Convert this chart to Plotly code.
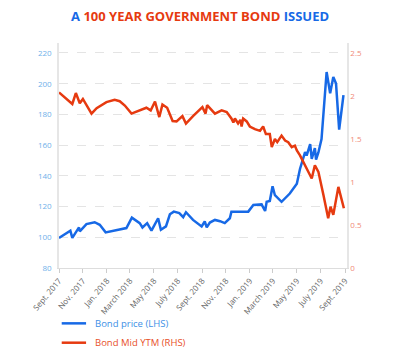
import plotly.graph_objects as go

# ---- data ----
price_dates = ["2017-09-01", "2017-09-30", "2017-10-05", "2017-10-22", "2017-10-24", "2017-11-10",
               "2017-12-01", "2017-12-14", "2017-12-29", "2018-02-20", "2018-03-06", "2018-03-26",
               "2018-04-02", "2018-04-14", "2018-04-25", "2018-05-12", "2018-05-19", "2018-06-01",
               "2018-06-11", "2018-06-21", "2018-07-05", "2018-07-15", "2018-07-22", "2018-08-09",
               "2018-08-31", "2018-09-08", "2018-09-13", "2018-09-21", "2018-10-04", "2018-10-17",
               "2018-10-29", "2018-11-11", "2018-11-15", "2018-12-28", "2019-01-10", "2019-01-31",
               "2019-02-09", "2019-02-13", "2019-02-21", "2019-02-28", "2019-03-06", "2019-03-23",
               "2019-04-13", "2019-05-01", "2019-05-09", "2019-05-22", "2019-05-26", "2019-06-04",
               "2019-06-08", "2019-06-16", "2019-06-19", "2019-06-25", "2019-07-03", "2019-07-16",
               "2019-07-25", "2019-08-02", "2019-08-09", "2019-08-17", "2019-08-28"]
price_values = [99.6, 104.3, 99.6, 106.4, 103.9, 108.6,
                109.8, 108.1, 103.2, 106.0, 112.8, 109.2,
                106.4, 109.2, 104.3, 112.4, 104.9, 107.1,
                115.0, 116.7, 115.8, 113.1, 116.3, 111.3,
                107.1, 110.3, 106.4, 109.6, 111.3, 110.5,
                109.2, 112.4, 116.7, 116.7, 121.0, 121.4,
                117.1, 123.1, 123.6, 133.2, 127.4, 123.1,
                128.5, 134.9, 144.5, 155.5, 153.2, 160.7,
                151.0, 158.0, 150.5, 155.2, 164.0, 207.6,
                193.7, 204.4, 200.1, 170.1, 192.6]

ytm_dates = ["2017-09-01", "2017-10-05", "2017-10-14", "2017-10-24", "2017-11-01", "2017-11-23",
             "2017-12-06", "2017-12-31", "2018-01-21", "2018-02-03", "2018-02-16", "2018-03-05",
             "2018-04-12", "2018-04-23", "2018-05-04", "2018-05-15", "2018-05-23", "2018-06-04",
             "2018-06-18", "2018-06-28", "2018-07-13", "2018-07-22", "2018-08-09", "2018-09-02",
             "2018-09-10", "2018-09-14", "2018-10-04", "2018-10-21", "2018-11-03", "2018-11-15",
             "2018-11-20", "2018-11-24", "2018-12-02", "2018-12-08", "2018-12-11", "2018-12-15",
             "2018-12-24", "2019-01-01", "2019-01-14", "2019-01-27", "2019-02-04", "2019-02-11",
             "2019-02-21", "2019-02-26", "2019-03-06", "2019-03-12", "2019-03-23", "2019-04-01",
             "2019-04-09", "2019-04-18", "2019-04-26", "2019-05-01", "2019-05-09", "2019-06-08",
             "2019-06-16", "2019-06-25", "2019-07-08", "2019-07-20", "2019-07-26", "2019-08-02",
             "2019-08-15", "2019-08-29"]
ytm_values = [2.041, 1.907, 2.034, 1.916, 1.966, 1.795,
              1.859, 1.929, 1.955, 1.939, 1.889, 1.795,
              1.863, 1.832, 1.936, 1.755, 1.900, 1.863,
              1.709, 1.705, 1.766, 1.679, 1.766, 1.870,
              1.795, 1.893, 1.795, 1.832, 1.813, 1.738,
              1.691, 1.738, 1.680, 1.723, 1.645, 1.738,
              1.704, 1.645, 1.614, 1.595, 1.645, 1.557,
              1.557, 1.405, 1.500, 1.463, 1.539, 1.482,
              1.463, 1.405, 1.423, 1.366, 1.309, 1.041,
              1.195, 1.118, 0.846, 0.579, 0.713, 0.618,
              0.943, 0.695]

tick_dates = ["2017-09-01", "2017-11-01", "2018-01-01", "2018-03-01", "2018-05-01", "2018-07-01",
              "2018-09-01", "2018-11-01", "2019-01-01", "2019-03-01", "2019-05-01", "2019-07-01",
              "2019-09-01"]
tick_labels = ["Sept. 2017", "Nov. 2017", "Jan. 2018", "March 2018", "May 2018", "July 2018",
               "Sept. 2018", "Nov. 2018", "Jan. 2019", "March 2019", "May 2019", "July 2019",
               "Sept. 2019"]
left_ticks = [80, 100, 120, 140, 160, 180, 200, 220]
right_ticks = [0, 0.5, 1, 1.5, 2, 2.5]
right_tick_labels = ["0", "0.5", "1", "1.5", "2", "2.5"]
series_names = ["Bond price (LHS)", "Bond Mid YTM (RHS)"]

BLUE = "#1769e6"
RED = "#e63a10"
LEG_TEXT = ["#3d90e6", "#e8502a"]

fig = go.Figure()
fig.add_trace(go.Scatter(
    x=price_dates, y=price_values, mode="lines",
    line=dict(color=BLUE, width=2.5), name=series_names[0],
))
fig.add_trace(go.Scatter(
    x=ytm_dates, y=ytm_values, mode="lines", yaxis="y2",
    line=dict(color=RED, width=2.5), name=series_names[1],
))

# manual legend below the chart (paper coordinates)
leg_y = [-0.246, -0.332]
for i, (col, tcol) in enumerate(zip([BLUE, RED], LEG_TEXT)):
    fig.add_shape(type="line", xref="paper", yref="paper",
                  x0=0.0094, x1=0.094, y0=leg_y[i], y1=leg_y[i],
                  line=dict(color=col, width=2.5))
    fig.add_annotation(xref="paper", yref="paper", x=0.118, y=leg_y[i],
                       xanchor="left", yanchor="middle", showarrow=False,
                       text=series_names[i], font=dict(size=9.5, color=tcol))

# page body has an 8px margin, so the figure is 8px smaller and shifted
fig.update_layout(
    width=392, height=348,
    margin=dict(l=51, r=53, t=35, b=88),
    paper_bgcolor="white", plot_bgcolor="white",
    font=dict(family="Open Sans", size=9),
    showlegend=False,
    title=dict(
        text="<b><span style='color:#1769e6'>A</span> 100 YEAR GOVERNMENT BOND "
             "<span style='color:#1769e6'>ISSUED</span></b>",
        font=dict(family="Open Sans", size=13, color="#e63a10"),
        x=0.49, xanchor="center", xref="container", y=0.975, yanchor="middle",
    ),
    xaxis=dict(
        type="date", range=["2017-09-01", "2019-09-06"], automargin=False,
        tickmode="array", tickvals=tick_dates, ticktext=tick_labels,
        tickangle=-50, tickfont=dict(size=8, color="#666666"),
        showgrid=False, showline=True, linecolor="#dddddd", linewidth=1,
        ticks="outside", ticklen=4, tickcolor="#cccccc",
        zeroline=False,
    ),
    yaxis=dict(
        range=[80, 226.5], tickmode="array", tickvals=left_ticks, automargin=False,
        tickfont=dict(size=8, color="#6fb1ea"),
        showgrid=True, gridcolor="#e4e4e4", griddash="dash", gridwidth=1,
        showline=True, linecolor="#e6e6e6", linewidth=1.5,
        zeroline=False, ticks="", ticklabelstandoff=4,
    ),
    yaxis2=dict(
        range=[0, 2.616], overlaying="y", side="right", automargin=False,
        tickmode="array", tickvals=right_ticks, ticktext=right_tick_labels,
        tickfont=dict(size=8, color="#f08a78"),
        showgrid=False, showline=True, linecolor="#e6e6e6", linewidth=1.5,
        zeroline=False, ticks="",
    ),
)

fig.write_html("out.html")
